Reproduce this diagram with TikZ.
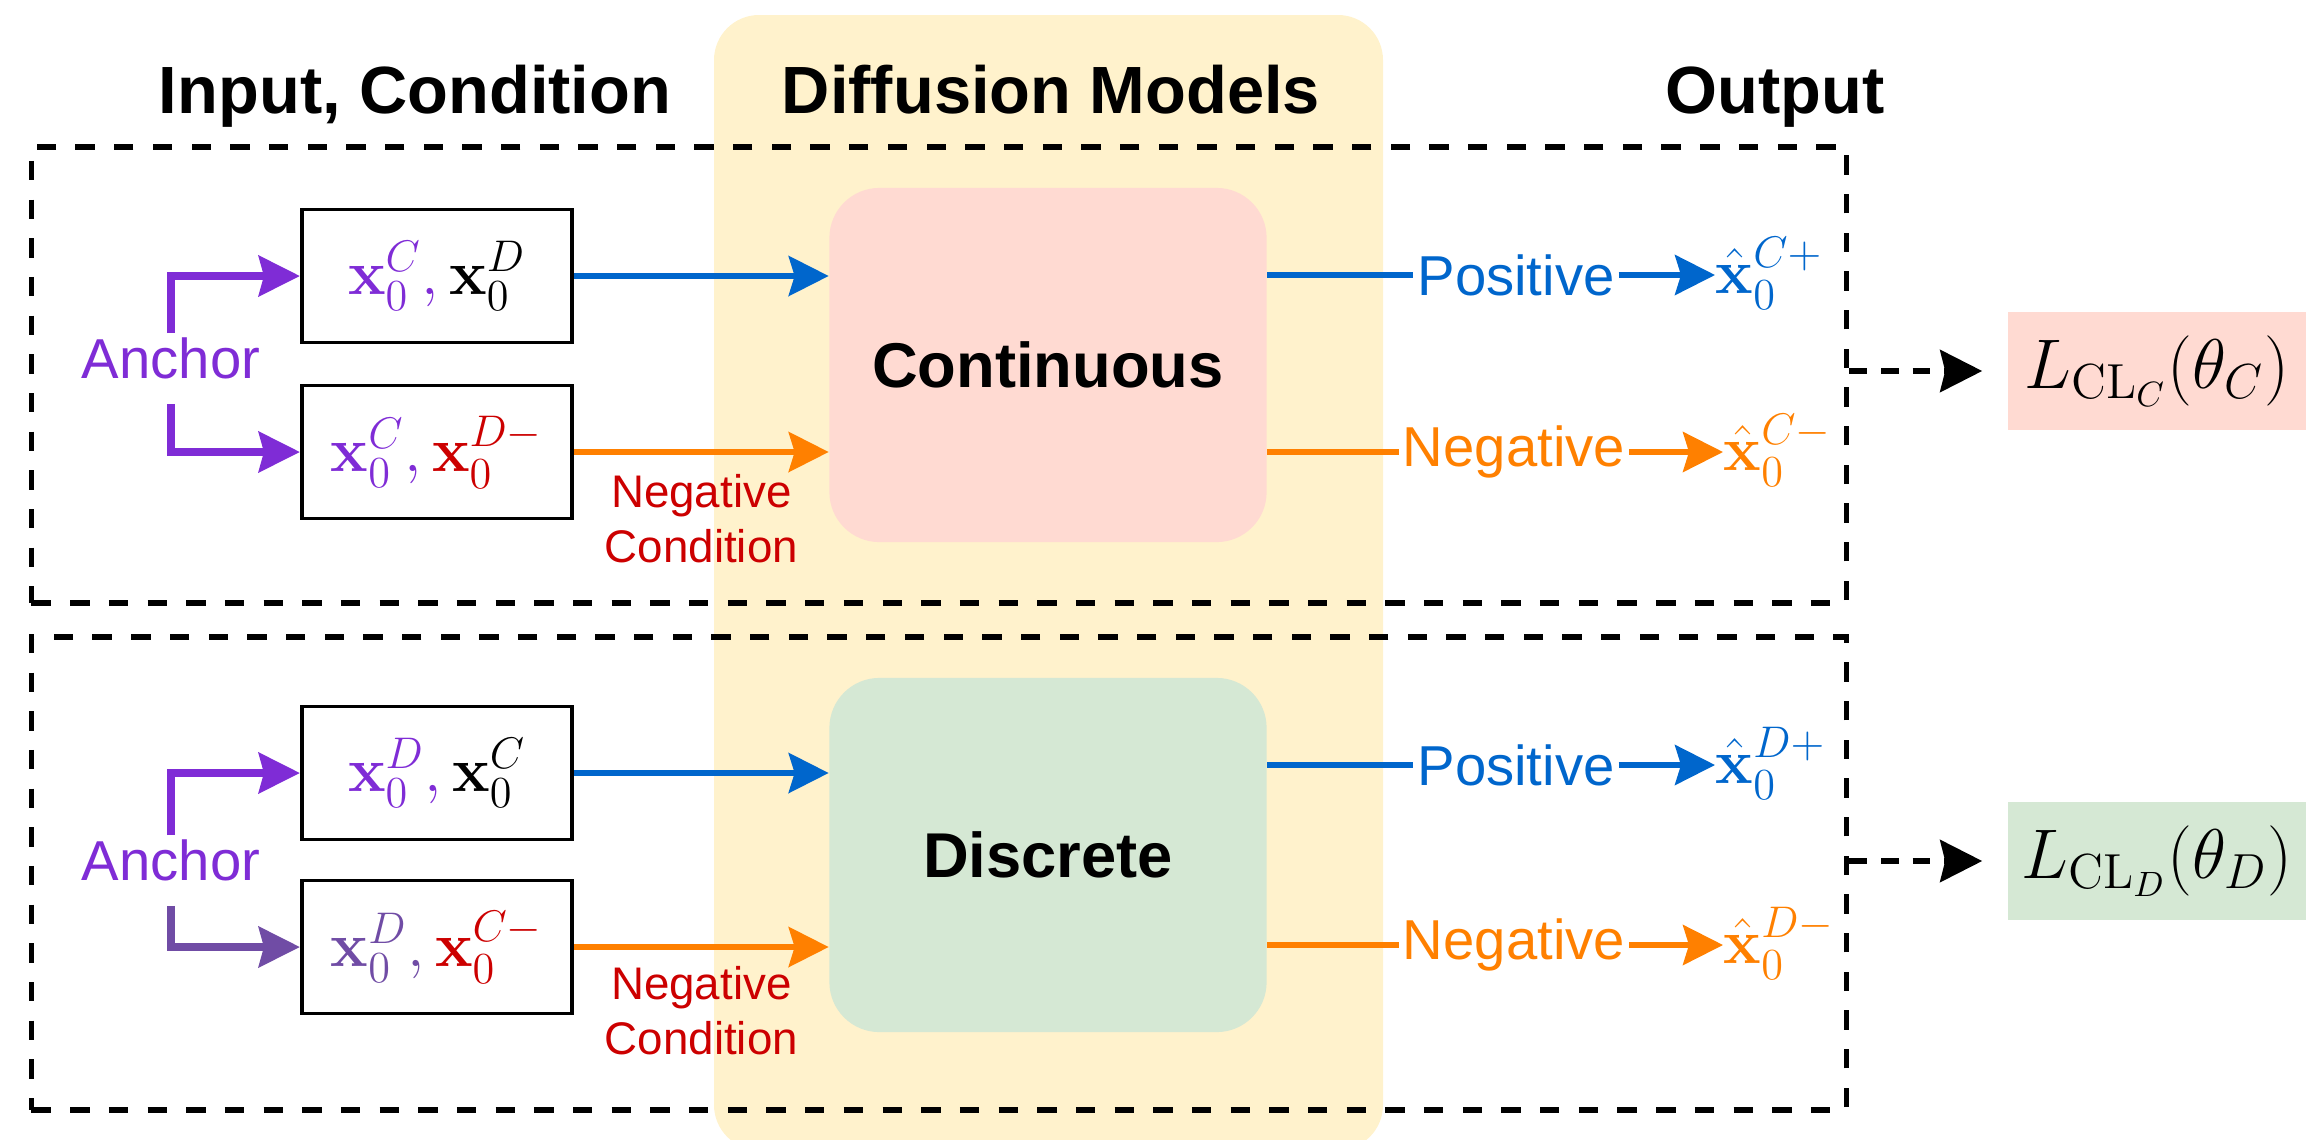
\RequirePackage{fix-cm}
\documentclass[tikz,border=0pt]{standalone}
\usepackage{amsmath}
\usepackage[no-math]{fontspec}
\newfontfamily\arialfont{Liberation Sans}
\usepackage{tikz}
\usetikzlibrary{positioning,arrows.meta,calc}

\definecolor{bandyellow}{RGB}{255,242,204}
\definecolor{contpink}{RGB}{255,218,210}
\definecolor{discgreen}{RGB}{213,232,212}
\definecolor{posblue}{RGB}{0,102,204}
\definecolor{negorange}{RGB}{255,128,0}
\definecolor{ancpurple}{RGB}{127,44,214}
\definecolor{ancgrey}{RGB}{112,76,165}
\definecolor{condred}{RGB}{204,0,0}

\begin{document}
\begin{tikzpicture}[x=0.01cm, y=-0.01cm,
headtext/.style={
  font=\arialfont\fontsize{19}{23}\selectfont\bfseries,
  anchor=base,
  inner sep=0pt},
dashframe/.style={
  draw,
  line width=1.6pt,
  dash pattern=on 5.5pt off 5.5pt,
  minimum width=18.14cm,
  inner sep=0pt},
inbox/.style={
  draw,
  line width=1.1pt,
  minimum width=2.7cm,
  minimum height=1.33cm,
  inner sep=0pt,
  font=\fontsize{18}{22}\selectfont},
model/.style={
  rounded corners=0.5cm,
  minimum width=4.37cm,
  minimum height=3.54cm,
  font=\arialfont\fontsize{18}{22}\selectfont\bfseries},
anctext/.style={
  text=ancpurple,
  inner sep=0pt,
  font=\arialfont\fontsize{16}{19}\selectfont},
anc/.style={
  line width=2.4pt,
  -{Stealth[length=0.41cm,width=0.4cm,inset=0.05cm]}},
headtip/.style={-{Stealth[length=0.4cm,width=0.4cm,inset=0.06cm]}},
posline/.style={draw=posblue, line width=1.5pt},
negline/.style={draw=negorange, line width=1.5pt},
outtext/.style={
  inner sep=1pt,
  font=\arialfont\fontsize{16}{19}\selectfont},
hatx/.style={
  inner sep=0pt,
  anchor=base west,
  font=\fontsize{18}{22}\selectfont},
negcond/.style={
  text=condred,
  align=center,
  inner sep=0pt,
  font=\arialfont\fontsize{13}{15.6}\selectfont},
lossbox/.style={
  minimum width=2.98cm,
  minimum height=1.17cm,
  inner sep=0pt,
  font=\fontsize{20}{24}\selectfont},
lossarrow/.style={
  line width=1.6pt,
  dash pattern=on 5pt off 4pt,
  shorten >=0.25cm,
  -{Stealth[length=0.42cm,width=0.42cm,inset=0.05cm]}}
]
\useasboundingbox (0,0) rectangle (2306,1139);
% diffusion band
\fill[bandyellow, rounded corners=0.45cm] (714,15) rectangle (1383,1150);

\node[headtext] (intitle) at (415,113) {Input, Condition};
\node[headtext] (dmtitle) at (1051,113) {Diffusion Models};
\node[headtext] (outtitle) at (1775,113) {Output};

\node[dashframe, minimum height=4.56cm] (topframe) at (939,375) {};
\node[dashframe, minimum height=4.73cm] (botframe) at (939,873.5) {};

\node[model, fill=contpink] (cont) at (1048,365) {Continuous};
\node[model, fill=discgreen] (disc) at (1048,855) {Discrete};

\node[inbox] (box1) at (437,276)
  {$\textcolor{ancpurple}{\mathbf{x}_0^{C},}\,\mathbf{x}_0^{D}$};
\node[inbox] (box2) at (437,452)
  {$\textcolor{ancpurple}{\mathbf{x}_0^{C},}\,\textcolor{condred}{\mathbf{x}_0^{D-}}$};
\node[inbox] (box3) at (437,773)
  {$\textcolor{ancpurple}{\mathbf{x}_0^{D},}\,\mathbf{x}_0^{C}$};
\node[inbox] (box4) at (437,947)
  {$\textcolor{ancgrey}{\mathbf{x}_0^{D},}\,\textcolor{condred}{\mathbf{x}_0^{C-}}$};

\node[anctext] (anc1) at (171,358) {Anchor};
\node[anctext] (anc2) at (171,860) {Anchor};
\draw[anc, ancpurple, shorten <=1pt] (anc1.north) |- (box1.west);
\draw[anc, ancpurple, shorten <=7pt] (anc1.south) |- (box2.west);
\draw[anc, ancpurple, shorten <=1pt] (anc2.north) |- (box3.west);
\draw[anc, ancgrey, shorten <=7pt] (anc2.south) |- (box4.west);

\draw[posline, headtip] (box1.east) -- (box1.east -| cont.west);
\draw[negline, headtip] (box2.east) --
  node[negcond, below=0.2cm] {Negative\\Condition} (box2.east -| cont.west);
\draw[posline, headtip] (box3.east) -- (box3.east -| disc.west);
\draw[negline, headtip] (box4.east) --
  node[negcond, below=0.17cm] {Negative\\Condition} (box4.east -| disc.west);

\foreach \m/\s/\k/\yp/\yn in {cont/C/1/275/452, disc/D/2/765/945}{
  \node[outtext, text=posblue] (pos\k) at (1516,\yp) {Positive};
  \node[outtext, text=negorange] (neg\k) at (1514,\yn) {Negative};
  \node[hatx, text=posblue] (xp\k) at (1715,{\yp+18}) {$\hat{\mathbf{x}}_0^{\s+}$};
  \node[hatx, text=negorange] (xn\k) at (1723,{\yn+18}) {$\hat{\mathbf{x}}_0^{\s-}$};
  \draw[posline] (pos\k.west -| \m.east) -- (pos\k.west);
  \draw[posline, headtip] (pos\k.east) -- (pos\k.east -| xp\k.west);
  \draw[negline] (neg\k.west -| \m.east) -- (neg\k.west);
  \draw[negline, headtip] (neg\k.east) -- (neg\k.east -| xn\k.west);
}

\node[lossbox, fill=contpink] (loss1) at (2157,371) {$L_{\mathrm{CL}_C}(\theta_C)$};
\node[lossbox, fill=discgreen] (loss2) at (2157,861) {$L_{\mathrm{CL}_D}(\theta_D)$};
\draw[lossarrow] (topframe.east |- loss1.west) -- (loss1.west);
\draw[lossarrow] (botframe.east |- loss2.west) -- (loss2.west);
\end{tikzpicture}
\end{document}
